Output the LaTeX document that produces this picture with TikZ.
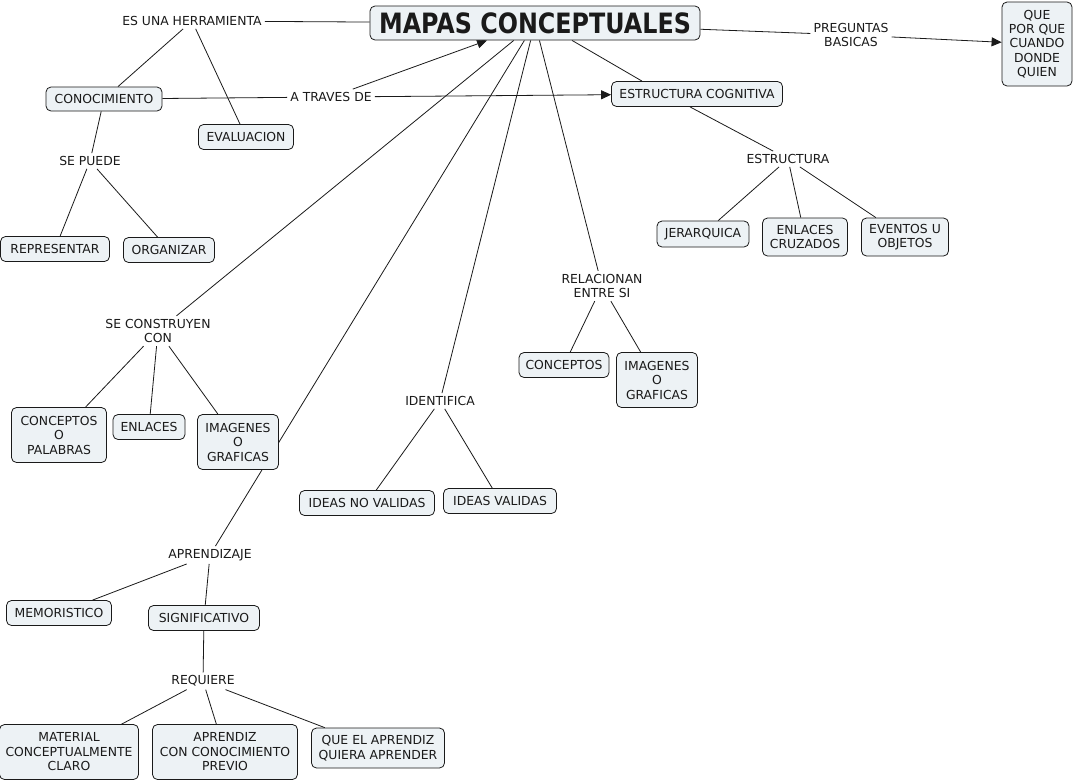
\documentclass[tikz,border=0pt]{standalone}
\usepackage{fontspec}
\setmainfont{DejaVu Sans}
\newfontfamily\titlefont{DejaVu Sans}[FakeStretch=0.85]
\usetikzlibrary{arrows.meta,backgrounds}
\definecolor{boxfill}{HTML}{EDF2F5}
\definecolor{ink}{HTML}{1A1A1A}
\begin{document}
\begin{tikzpicture}[x=1pt,y=-1pt,
  concept/.style={draw=ink, fill=boxfill, rounded corners=5pt, line width=0.8pt,
    align=center, inner sep=2pt, font=\fontsize{12.4}{14.5}\selectfont, text=ink},
  phrase/.style={align=center, inner sep=3pt, font=\fontsize{12.4}{14.5}\selectfont, text=ink},
  link/.style={draw=ink, line width=0.8pt},
  arr/.style={link, -{Triangle[length=10pt,width=9pt]}},
  sz/.style 2 args={minimum width=#1pt, minimum height=#2pt}]
\useasboundingbox (0,0) rectangle (1075,782);
% concepts
\node[concept, sz={330}{34}, font=\titlefont\bfseries\fontsize{28}{30}\selectfont] (mapas) at (535,23) {MAPAS CONCEPTUALES};
\node[concept, sz={70}{84}, font=\fontsize{12.4}{14.3}\selectfont] (que) at (1037,44) {QUE\\POR QUE\\CUANDO\\DONDE\\QUIEN};
\node[concept, sz={116}{24}] (cono) at (104,99) {CONOCIMIENTO};
\node[concept, sz={95}{25}] (eval) at (246,137) {EVALUACION};
\node[concept, sz={171}{25}] (ec) at (697,94) {ESTRUCTURA COGNITIVA};
\node[concept, sz={109}{25}] (repr) at (55,249) {REPRESENTAR};
\node[concept, sz={91}{25}] (orga) at (169,250) {ORGANIZAR};
\node[concept, sz={92}{26}] (jera) at (703,234) {JERARQUICA};
\node[concept, sz={85}{38}] (encr) at (805,237) {ENLACES\\CRUZADOS};
\node[concept, sz={87}{38}] (even) at (905,237) {EVENTOS U\\OBJETOS};
\node[concept, sz={95}{55}] (copa) at (59,435) {CONCEPTOS\\O\\PALABRAS};
\node[concept, sz={72}{25}] (enla) at (149,427) {ENLACES};
\node[concept, sz={81}{55}] (imgl) at (238,442) {IMAGENES\\O\\GRAFICAS};
\node[concept, sz={135}{25}] (idnv) at (367,503) {IDEAS NO VALIDAS};
\node[concept, sz={113}{25}] (idva) at (500,501) {IDEAS VALIDAS};
\node[concept, sz={90}{25}] (conc) at (564,365) {CONCEPTOS};
\node[concept, sz={81}{55}] (imgr) at (657,380) {IMAGENES\\O\\GRAFICAS};
\node[concept, sz={105}{25}] (memo) at (59,613) {MEMORISTICO};
\node[concept, sz={111}{25}] (sign) at (204,618) {SIGNIFICATIVO};
\node[concept, sz={139}{55}] (mate) at (69,752) {MATERIAL\\CONCEPTUALMENTE\\CLARO};
\node[concept, sz={145}{55}] (apre) at (225,752) {APRENDIZ\\CON CONOCIMIENTO\\PREVIO};
\node[concept, sz={133}{40}] (quel) at (378,748) {QUE EL APRENDIZ\\QUIERA APRENDER};
% linking phrases
\node[phrase] (herr) at (192,21) {ES UNA HERRAMIENTA};
\node[phrase] (atd) at (331,97) {A TRAVES DE};
\node[phrase] (preg) at (851,35) {PREGUNTAS\\BASICAS};
\node[phrase] (sepu) at (90,161) {SE PUEDE};
\node[phrase] (estr) at (788,159) {ESTRUCTURA};
\node[phrase] (rela) at (602,286) {RELACIONAN\\ENTRE SI};
\node[phrase] (secc) at (158,331) {SE CONSTRUYEN\\CON};
\node[phrase] (iden) at (440,401) {IDENTIFICA};
\node[phrase] (aprz) at (210,555) {APRENDIZAJE};
\node[phrase] (requ) at (203,681) {REQUIERE};
% connectors
\begin{pgfonlayer}{background}
\fill[white] (0,0) rectangle (1075,782);
\draw[link] (mapas) -- (herr);
\draw[link] (herr) -- (cono);
\draw[link] (herr) -- (eval);
\draw[link] (cono) -- (atd);
\draw[arr] (atd) -- (ec);
\draw[arr] (atd) -- (mapas);
\draw[link] (mapas) -- (preg);
\draw[arr] (preg) -- (que);
\draw[link] ([xshift=37pt]mapas.south) -- ([xshift=-55pt]ec.north);
\draw[link] ([xshift=-7pt]ec.south) -- (estr);
\draw[link] (estr) -- (jera);
\draw[link] (estr) -- (encr);
\draw[link] (estr) -- (even);
\draw[link] (cono) -- (sepu);
\draw[link] (sepu) -- (repr);
\draw[link] (sepu) -- (orga);
\draw[link] (mapas) -- (secc);
\draw[link] (secc) -- (copa);
\draw[link] (secc) -- (enla);
\draw[link] (secc) -- (imgl);
\draw[link] (mapas) -- (aprz);
\draw[link] (mapas) -- (iden);
\draw[link] (iden) -- (idnv);
\draw[link] (iden) -- (idva);
\draw[link] (mapas) -- (rela);
\draw[link] (rela) -- (conc);
\draw[link] (rela) -- (imgr);
\draw[link] (aprz) -- (memo);
\draw[link] (aprz) -- (sign);
\draw[link] (sign) -- (requ);
\draw[link] (requ) -- (mate);
\draw[link] (requ) -- (apre);
\draw[link] (requ) -- (quel);
\end{pgfonlayer}
\end{tikzpicture}
\end{document}
